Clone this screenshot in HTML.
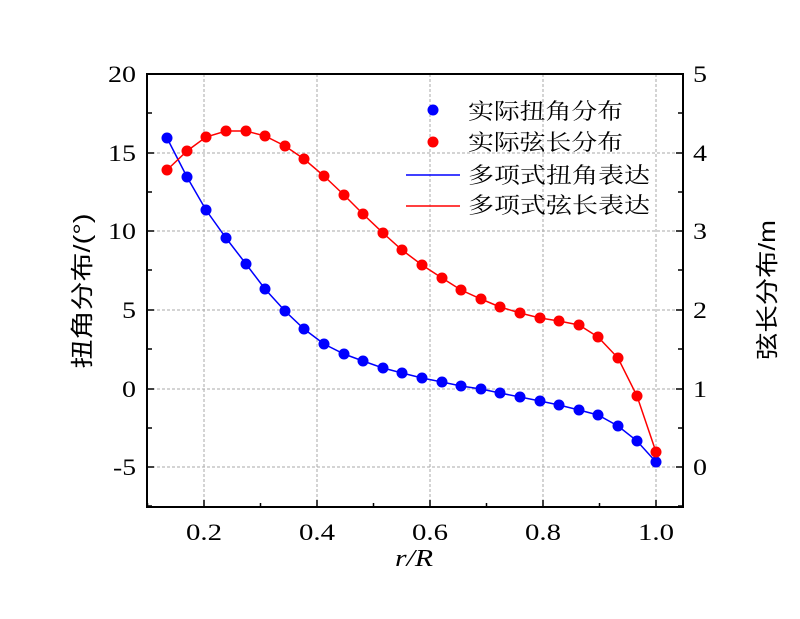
<!DOCTYPE html>
<html><head><meta charset="utf-8"><style>body{margin:0;background:#fff}</style></head><body>
<svg width="800" height="614" xmlns="http://www.w3.org/2000/svg" font-family="'Liberation Serif','Noto Serif CJK SC',serif">
<rect width="800" height="614" fill="#fff"/>
<g stroke="#aaa" stroke-dasharray="3,2" stroke-width="1">
<line x1="204" y1="74" x2="204" y2="507"/><line x1="317" y1="74" x2="317" y2="507"/><line x1="430" y1="74" x2="430" y2="507"/><line x1="543" y1="74" x2="543" y2="507"/><line x1="656" y1="74" x2="656" y2="507"/>
<line x1="147" y1="153" x2="683" y2="153"/><line x1="147" y1="231" x2="683" y2="231"/><line x1="147" y1="310" x2="683" y2="310"/><line x1="147" y1="389" x2="683" y2="389"/><line x1="147" y1="467" x2="683" y2="467"/>
</g>
<rect x="147" y="74" width="536" height="433" fill="none" stroke="#000" stroke-width="2"/>
<g stroke="#000" stroke-width="1.5">
<path d="M204 507v-7M317 507v-7M430 507v-7M543 507v-7M656 507v-7M147.5 507v-4M260.5 507v-4M373.5 507v-4M486.5 507v-4M599.5 507v-4"/>
<path d="M147 74h7M147 153h7M147 231h7M147 310h7M147 389h7M147 467h7M147 113h5M147 192h5M147 270h5M147 349h5M147 428h5M147 506h5"/>
<path d="M683 74h-7M683 153h-7M683 231h-7M683 310h-7M683 389h-7M683 467h-7M683 113h-5M683 192h-5M683 270h-5M683 349h-5M683 428h-5M683 506h-5"/>
</g>
<g font-size="23">
<text text-anchor="middle" x="204" y="540" textLength="36" lengthAdjust="spacingAndGlyphs">0.2</text>
<text text-anchor="middle" x="317" y="540" textLength="36" lengthAdjust="spacingAndGlyphs">0.4</text>
<text text-anchor="middle" x="430" y="540" textLength="36" lengthAdjust="spacingAndGlyphs">0.6</text>
<text text-anchor="middle" x="543" y="540" textLength="36" lengthAdjust="spacingAndGlyphs">0.8</text>
<text text-anchor="middle" x="656" y="540" textLength="36" lengthAdjust="spacingAndGlyphs">1.0</text>
<text x="108" y="82" textLength="28" lengthAdjust="spacingAndGlyphs">20</text>
<text x="108" y="161" textLength="28" lengthAdjust="spacingAndGlyphs">15</text>
<text x="108" y="239" textLength="28" lengthAdjust="spacingAndGlyphs">10</text>
<text x="122" y="318" textLength="14" lengthAdjust="spacingAndGlyphs">5</text>
<text x="122" y="397" textLength="14" lengthAdjust="spacingAndGlyphs">0</text>
<text x="113" y="475" textLength="23" lengthAdjust="spacingAndGlyphs">-5</text>
<text x="693" y="82" textLength="14" lengthAdjust="spacingAndGlyphs">5</text>
<text x="693" y="161" textLength="14" lengthAdjust="spacingAndGlyphs">4</text>
<text x="693" y="239" textLength="14" lengthAdjust="spacingAndGlyphs">3</text>
<text x="693" y="318" textLength="14" lengthAdjust="spacingAndGlyphs">2</text>
<text x="693" y="397" textLength="14" lengthAdjust="spacingAndGlyphs">1</text>
<text x="693" y="475" textLength="14" lengthAdjust="spacingAndGlyphs">0</text>
<text x="395" y="566" font-size="24" font-style="italic" textLength="38" lengthAdjust="spacingAndGlyphs">r/R</text>
</g>
<text transform="translate(90,291) rotate(-90)" font-family="'Liberation Sans','Noto Sans CJK SC',sans-serif" font-size="23" text-anchor="middle" textLength="155" lengthAdjust="spacingAndGlyphs">扭角分布/(°)</text>
<text transform="translate(775,290) rotate(-90)" font-family="'Liberation Sans','Noto Sans CJK SC',sans-serif" font-size="23" text-anchor="middle" textLength="140" lengthAdjust="spacingAndGlyphs">弦长分布/m</text>
<polyline fill="none" stroke="#0000ff" stroke-width="1.5" points="167,138 187,177 206,210 226,238 246,264 265,289 285,311 304,329 324,344 344,354 363,361 383,368 402,373 422,378 442,382 461,386 481,389 500,393 520,397 540,401 559,405 579,410 598,415 618,426 637,441 656,462"/>
<polyline fill="none" stroke="#ff0000" stroke-width="1.5" points="167,170 187,151 206,137 226,131 246,131 265,136 285,146 304,159 324,176 344,195 363,214 383,233 402,250 422,265 442,278 461,290 481,299 500,307 520,313 540,318 559,321 579,325 598,337 618,358 637,396 656,452"/>
<g fill="#0000ff">
<circle cx="167" cy="138" r="5.5"/><circle cx="187" cy="177" r="5.5"/><circle cx="206" cy="210" r="5.5"/><circle cx="226" cy="238" r="5.5"/><circle cx="246" cy="264" r="5.5"/><circle cx="265" cy="289" r="5.5"/><circle cx="285" cy="311" r="5.5"/><circle cx="304" cy="329" r="5.5"/><circle cx="324" cy="344" r="5.5"/><circle cx="344" cy="354" r="5.5"/><circle cx="363" cy="361" r="5.5"/><circle cx="383" cy="368" r="5.5"/><circle cx="402" cy="373" r="5.5"/><circle cx="422" cy="378" r="5.5"/><circle cx="442" cy="382" r="5.5"/><circle cx="461" cy="386" r="5.5"/><circle cx="481" cy="389" r="5.5"/><circle cx="500" cy="393" r="5.5"/><circle cx="520" cy="397" r="5.5"/><circle cx="540" cy="401" r="5.5"/><circle cx="559" cy="405" r="5.5"/><circle cx="579" cy="410" r="5.5"/><circle cx="598" cy="415" r="5.5"/><circle cx="618" cy="426" r="5.5"/><circle cx="637" cy="441" r="5.5"/><circle cx="656" cy="462" r="5.5"/>
<circle cx="433" cy="110" r="5.5"/>
</g>
<g fill="#ff0000">
<circle cx="167" cy="170" r="5.5"/><circle cx="187" cy="151" r="5.5"/><circle cx="206" cy="137" r="5.5"/><circle cx="226" cy="131" r="5.5"/><circle cx="246" cy="131" r="5.5"/><circle cx="265" cy="136" r="5.5"/><circle cx="285" cy="146" r="5.5"/><circle cx="304" cy="159" r="5.5"/><circle cx="324" cy="176" r="5.5"/><circle cx="344" cy="195" r="5.5"/><circle cx="363" cy="214" r="5.5"/><circle cx="383" cy="233" r="5.5"/><circle cx="402" cy="250" r="5.5"/><circle cx="422" cy="265" r="5.5"/><circle cx="442" cy="278" r="5.5"/><circle cx="461" cy="290" r="5.5"/><circle cx="481" cy="299" r="5.5"/><circle cx="500" cy="307" r="5.5"/><circle cx="520" cy="313" r="5.5"/><circle cx="540" cy="318" r="5.5"/><circle cx="559" cy="321" r="5.5"/><circle cx="579" cy="325" r="5.5"/><circle cx="598" cy="337" r="5.5"/><circle cx="618" cy="358" r="5.5"/><circle cx="637" cy="396" r="5.5"/><circle cx="656" cy="452" r="5.5"/>
<circle cx="433" cy="142" r="5.5"/>
</g>
<line x1="406" y1="175" x2="460" y2="175" stroke="#0000ff" stroke-width="1.5"/>
<line x1="406" y1="206" x2="460" y2="206" stroke="#ff0000" stroke-width="1.5"/>
<g font-size="22">
<text x="468" y="119" textLength="155" lengthAdjust="spacingAndGlyphs">实际扭角分布</text>
<text x="468" y="150" textLength="155" lengthAdjust="spacingAndGlyphs">实际弦长分布</text>
<text x="468" y="183" textLength="182" lengthAdjust="spacingAndGlyphs">多项式扭角表达</text>
<text x="468" y="213" textLength="182" lengthAdjust="spacingAndGlyphs">多项式弦长表达</text>
</g>
</svg>
</body></html>
